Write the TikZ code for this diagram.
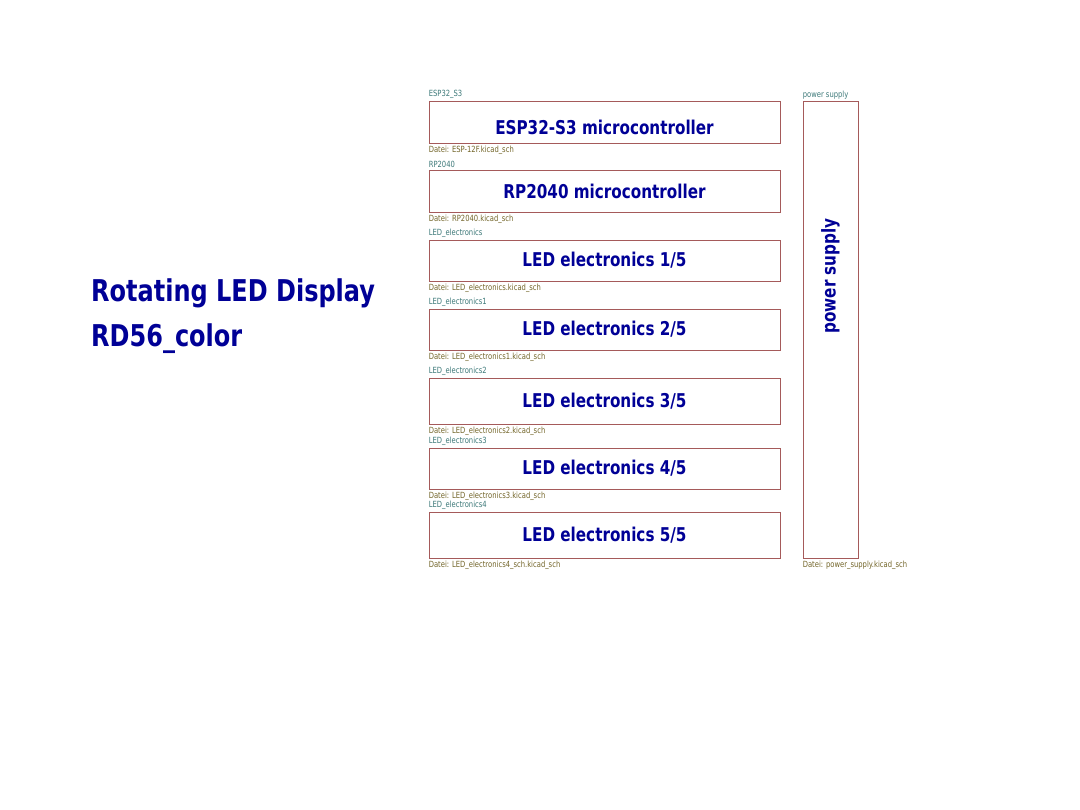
\documentclass[tikz,border=0pt]{standalone}
\usepackage{fontspec}
\usepackage{tikz}
\usetikzlibrary{positioning}
\newfontfamily\kifont{DejaVu Sans}[FakeStretch=0.8]
\definecolor{kiblue}{RGB}{0,0,150}
\definecolor{kiname}{RGB}{60,120,120}
\definecolor{kifile}{RGB}{114,100,40}
\definecolor{kiborder}{RGB}{165,90,90}

\begin{document}
\begin{tikzpicture}[x=1pt, y=-1pt,
  sheet/.style={draw=kiborder, line width=0.8pt, minimum width=351pt, inner sep=0pt,
    text=kiblue, font=\kifont\bfseries\fontsize{19}{19}\selectfont},
  sheetname/.style={text=kiname, inner sep=0pt, anchor=south west, yshift=1.5pt,
    font=\kifont\fontsize{8.5}{8.5}\selectfont},
  sheetfile/.style={text=kifile, inner sep=0pt, anchor=north west, yshift=-2pt,
    font=\kifont\fontsize{8.5}{8.5}\selectfont},
  titletext/.style={text=kiblue, inner sep=0pt, anchor=west,
    font=\kifont\bfseries\fontsize{30}{30}\selectfont}]
  \useasboundingbox (0,0) rectangle (1080,810);
  % project title
  \node[titletext] (title) at (91,293) {Rotating LED Display};
  \node[titletext] (variant) at (91,339) {RD56\_color};
  % hierarchical sheets
  \node[sheet, minimum height=42pt] (esp) at (604.5,122)
    {\raisebox{-5pt}[\height][\depth]{ESP32-S3 microcontroller}};
  \node[sheetname] (espname) at (esp.north west) {ESP32\_S3};
  \node[sheetfile] (espfile) at (esp.south west) {Datei: ESP-12F.kicad\_sch};
  \node[sheet, minimum height=42pt] (rp) at (604.5,191) {RP2040 microcontroller};
  \node[sheetname] (rpname) at (rp.north west) {RP2040};
  \node[sheetfile] (rpfile) at (rp.south west) {Datei: RP2040.kicad\_sch};
  \node[sheet, minimum height=41pt] (led1) at (604.5,260.5) {LED electronics 1/5};
  \node[sheetname] (led1name) at (led1.north west) {LED\_electronics};
  \node[sheetfile] (led1file) at (led1.south west) {Datei: LED\_electronics.kicad\_sch};
  \node[sheet, minimum height=41pt] (led2) at (604.5,329.5) {LED electronics 2/5};
  \node[sheetname] (led2name) at (led2.north west) {LED\_electronics1};
  \node[sheetfile] (led2file) at (led2.south west) {Datei: LED\_electronics1.kicad\_sch};
  \node[sheet, minimum height=46pt] (led3) at (604.5,401) {LED electronics 3/5};
  \node[sheetname] (led3name) at (led3.north west) {LED\_electronics2};
  \node[sheetfile] (led3file) at (led3.south west) {Datei: LED\_electronics2.kicad\_sch};
  \node[sheet, minimum height=41pt] (led4) at (604.5,468.5) {LED electronics 4/5};
  \node[sheetname] (led4name) at (led4.north west) {LED\_electronics3};
  \node[sheetfile] (led4file) at (led4.south west) {Datei: LED\_electronics3.kicad\_sch};
  \node[sheet, minimum height=46pt] (led5) at (604.5,535) {LED electronics 5/5};
  \node[sheetname] (led5name) at (led5.north west) {LED\_electronics4};
  \node[sheetfile] (led5file) at (led5.south west) {Datei: LED\_electronics4\_sch.kicad\_sch};
  % power supply sheet, tall and narrow
  \node[sheet, minimum width=55pt, minimum height=457pt] (psu) at (830.5,329.5) {};
  \node[text=kiblue, font=\kifont\bfseries\fontsize{19}{19}\selectfont, rotate=90]
    (psutext) at (830.5,276) {power supply};
  \node[sheetname] (psuname) at (psu.north west) {power supply};
  \node[sheetfile] (psufile) at (psu.south west) {Datei: power\_supply.kicad\_sch};
\end{tikzpicture}
\end{document}
